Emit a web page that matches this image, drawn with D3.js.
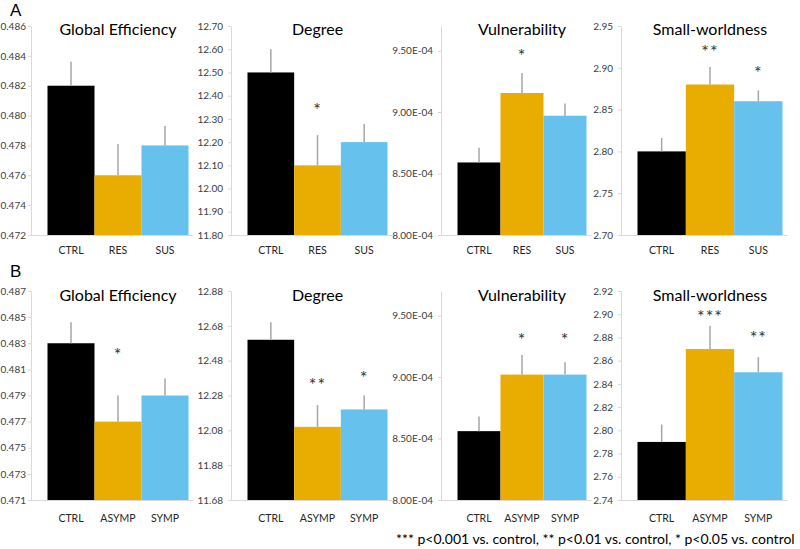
<!DOCTYPE html>
<html>
<head>
<meta charset="utf-8">
<script src="https://cdn.jsdelivr.net/npm/d3@7"></script>
<style>
  html, body { margin: 0; padding: 0; background: #fff; }
  svg { display: block; font-family: Lato, "Open Sans", sans-serif; }
</style>
</head>
<body>
<script>
// ---------------- DATA ----------------
const groupsA = ["CTRL", "RES", "SUS"];
const groupsB = ["CTRL", "ASYMP", "SYMP"];
const metricTitles = ["Global Efficiency", "Degree", "Vulnerability", "Small-worldness"];
const rowLabels = ["A", "B"];

// Row A
const geA = [0.482, 0.476, 0.478];
const geAErr = [0.0016, 0.0021, 0.0013];
const geASig = ["", "", ""];
const geASigY = [null, null, null];
const geATicks = [0.472, 0.474, 0.476, 0.478, 0.480, 0.482, 0.484, 0.486];

const degA = [12.50, 12.10, 12.20];
const degAErr = [0.10, 0.13, 0.078];
const degASig = ["", "*", ""];
const degASigY = [null, 12.356, null];
const degATicks = [11.80, 11.90, 12.00, 12.10, 12.20, 12.30, 12.40, 12.50, 12.60, 12.70];

const vulA = [8.59e-4, 9.155e-4, 8.97e-4];
const vulAErr = [0.12e-4, 0.163e-4, 0.10e-4];
const vulASig = ["", "*", ""];
const vulASigY = [null, 9.49e-4, null];
const vulATicks = [8.0e-4, 8.5e-4, 9.0e-4, 9.5e-4];
const vulAMax = 9.7e-4;

const swA = [2.80, 2.88, 2.86];
const swAErr = [0.016, 0.021, 0.013];
const swASig = ["", "**", "*"];
const swASigY = [null, 2.924, 2.899];
const swATicks = [2.70, 2.75, 2.80, 2.85, 2.90, 2.95];

// Row B
const geB = [0.483, 0.477, 0.479];
const geBErr = [0.0016, 0.0020, 0.0013];
const geBSig = ["", "*", ""];
const geBSigY = [null, 0.4824, null];
const geBTicks = [0.471, 0.473, 0.475, 0.477, 0.479, 0.481, 0.483, 0.485, 0.487];

const degB = [12.60, 12.10, 12.20];
const degBErr = [0.10, 0.125, 0.08];
const degBSig = ["", "**", "*"];
const degBSigY = [null, 12.363, 12.403];
const degBTicks = [11.68, 11.88, 12.08, 12.28, 12.48, 12.68, 12.88];

const vulB = [8.56e-4, 9.02e-4, 9.02e-4];
const vulBErr = [0.12e-4, 0.16e-4, 0.10e-4];
const vulBSig = ["", "*", "*"];
const vulBSigY = [null, 9.334e-4, 9.334e-4];
const vulBTicks = [8.0e-4, 8.5e-4, 9.0e-4, 9.5e-4];
const vulBMax = 9.7e-4;

const swB = [2.79, 2.87, 2.85];
const swBErr = [0.015, 0.020, 0.013];
const swBSig = ["", "***", "**"];
const swBSigY = [null, 2.901, 2.883];
const swBTicks = [2.74, 2.76, 2.78, 2.80, 2.82, 2.84, 2.86, 2.88, 2.90, 2.92];

const colors = ["#000000", "#E9AC00", "#66C1EC"];
const footnote = "*** p<0.001 vs. control, ** p<0.01 vs. control, * p<0.05 vs. control";

// ---------------- LAYOUT ----------------
const W = 800, H = 549;
const colAxisX = [31, 231, 441, 621];
const colBarsW = [141, 140, 129, 145];
const colTickPad = [2, 5, 5, 5];
const rowTop = [26, 291];
const rowBottom = [235, 500];
const rowTitleY = [35, 301];
const rowXLabelY = [254, 522];
const rowLetterY = [15.5, 277];

const fmt3 = d3.format(".3f");
const fmt2 = d3.format(".2f");
const fmtSci = v => {
  const [m, e] = v.toExponential(2).split("e");
  const ex = parseInt(e, 10);
  return m + "E" + (ex < 0 ? "-" : "+") + String(Math.abs(ex)).padStart(2, "0");
};

const panels = [
  { row: 0, col: 0, cats: groupsA, means: geA, errs: geAErr, sig: geASig, sigY: geASigY, ticks: geATicks, max: geATicks[geATicks.length - 1], fmt: fmt3 },
  { row: 0, col: 1, cats: groupsA, means: degA, errs: degAErr, sig: degASig, sigY: degASigY, ticks: degATicks, max: degATicks[degATicks.length - 1], fmt: fmt2 },
  { row: 0, col: 2, cats: groupsA, means: vulA, errs: vulAErr, sig: vulASig, sigY: vulASigY, ticks: vulATicks, max: vulAMax, fmt: fmtSci },
  { row: 0, col: 3, cats: groupsA, means: swA, errs: swAErr, sig: swASig, sigY: swASigY, ticks: swATicks, max: swATicks[swATicks.length - 1], fmt: fmt2 },
  { row: 1, col: 0, cats: groupsB, means: geB, errs: geBErr, sig: geBSig, sigY: geBSigY, ticks: geBTicks, max: geBTicks[geBTicks.length - 1], fmt: fmt3 },
  { row: 1, col: 1, cats: groupsB, means: degB, errs: degBErr, sig: degBSig, sigY: degBSigY, ticks: degBTicks, max: degBTicks[degBTicks.length - 1], fmt: fmt2 },
  { row: 1, col: 2, cats: groupsB, means: vulB, errs: vulBErr, sig: vulBSig, sigY: vulBSigY, ticks: vulBTicks, max: vulBMax, fmt: fmtSci },
  { row: 1, col: 3, cats: groupsB, means: swB, errs: swBErr, sig: swBSig, sigY: swBSigY, ticks: swBTicks, max: swBTicks[swBTicks.length - 1], fmt: fmt2 }
];

const svg = d3.select("body").append("svg").attr("width", W).attr("height", H);
svg.append("rect").attr("width", W).attr("height", H).attr("fill", "#fff");

panels.forEach(p => {
  const axisX = colAxisX[p.col];
  const top = rowTop[p.row], bottom = rowBottom[p.row];
  const barsStart = axisX + 16.5;
  const barsEnd = barsStart + colBarsW[p.col];
  const y = d3.scaleLinear().domain([p.ticks[0], p.max]).range([bottom, top]);
  const x = d3.scaleBand().domain(p.cats).range([barsStart, barsEnd]).padding(0);
  const g = svg.append("g");

  const rows = p.cats.map((c, i) => ({ c, i, v: p.means[i], e: p.errs[i], s: p.sig[i], sy: p.sigY[i] }));

  // axis
  const ax = g.append("g").attr("transform", `translate(${axisX},0)`)
    .call(d3.axisLeft(y).tickValues(p.ticks).tickFormat(p.fmt).tickSize(3).tickPadding(colTickPad[p.col]).tickSizeOuter(0));
  ax.select(".domain").attr("stroke", "#d9d9d9").attr("stroke-width", 1);
  ax.selectAll(".tick line").attr("stroke", "#d9d9d9");
  ax.selectAll(".tick text").attr("fill", "#404040").style("font-size", "10px").style("font-family", "Lato, sans-serif");

  // baseline
  g.append("line").attr("x1", axisX).attr("x2", barsEnd + 5)
    .attr("y1", bottom + 0.5).attr("y2", bottom + 0.5)
    .attr("stroke", "#d9d9d9").attr("stroke-width", 1);

  // bars
  g.selectAll("rect.bar").data(rows).join("rect").attr("class", "bar")
    .attr("x", d => x(d.c)).attr("width", x.bandwidth())
    .attr("y", d => y(d.v)).attr("height", d => bottom - y(d.v))
    .attr("fill", d => colors[d.i]);

  // error bars
  g.selectAll("line.err").data(rows).join("line").attr("class", "err")
    .attr("x1", d => x(d.c) + x.bandwidth() / 2).attr("x2", d => x(d.c) + x.bandwidth() / 2)
    .attr("y1", d => y(d.v)).attr("y2", d => y(d.v + d.e))
    .attr("stroke", "#a6a6a6").attr("stroke-width", 1.5);

  // significance stars
  g.selectAll("text.sig").data(rows.filter(d => d.s)).join("text").attr("class", "sig")
    .attr("x", d => x(d.c) + x.bandwidth() / 2).attr("y", d => y(d.sy) + 10)
    .attr("text-anchor", "middle").attr("fill", "#333")
    .style("font-size", "18px").style("letter-spacing", "1px")
    .text(d => d.s);

  // x labels
  g.selectAll("text.xl").data(rows).join("text").attr("class", "xl")
    .attr("x", d => x(d.c) + x.bandwidth() / 2).attr("y", rowXLabelY[p.row])
    .attr("text-anchor", "middle").attr("fill", "#262626")
    .style("font-size", "10.5px").text(d => d.c);

  // title
  g.append("text").attr("x", (barsStart + barsEnd) / 2).attr("y", rowTitleY[p.row])
    .attr("text-anchor", "middle").attr("fill", "#000")
    .style("font-size", "16px").text(metricTitles[p.col]);
});

// row letters
rowLabels.forEach((l, i) => {
  svg.append("text").attr("x", 10).attr("y", rowLetterY[i])
    .attr("fill", "#000").style("font-family", "'Liberation Sans', Arial, sans-serif")
    .style("font-size", "17px").text(l);
});

// footnote
svg.append("text").attr("x", 396).attr("y", 544).attr("fill", "#000")
  .style("font-size", "14px").text(footnote);
</script>
</body>
</html>
